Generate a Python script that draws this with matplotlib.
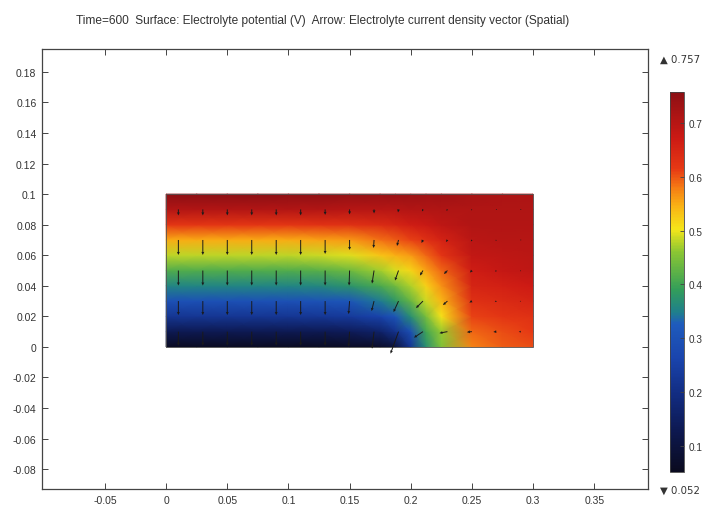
import numpy as np
import matplotlib
matplotlib.use("Agg")
import matplotlib.pyplot as plt
from matplotlib.colors import LinearSegmentedColormap
from matplotlib.patches import Rectangle

# electrolyte potential (V) on the domain nodes, rows = y, columns = x
x_nodes = [0.0, 0.025, 0.05, 0.075, 0.1, 0.125, 0.15, 0.175, 0.1875, 0.2, 0.2125,
           0.225, 0.25, 0.275, 0.3]
y_nodes = [0.0, 0.01, 0.02, 0.03, 0.04, 0.05, 0.06, 0.07, 0.08, 0.09, 0.1]
phi_by_column = [
    [0.06, 0.13, 0.225, 0.295, 0.355, 0.415, 0.48, 0.55, 0.62, 0.705, 0.755],
    [0.06, 0.13, 0.225, 0.295, 0.355, 0.415, 0.48, 0.55, 0.62, 0.705, 0.755],
    [0.06, 0.13, 0.225, 0.295, 0.355, 0.415, 0.48, 0.55, 0.62, 0.705, 0.755],
    [0.06, 0.13, 0.225, 0.295, 0.355, 0.415, 0.48, 0.55, 0.62, 0.705, 0.755],
    [0.06, 0.13, 0.225, 0.295, 0.355, 0.415, 0.48, 0.55, 0.62, 0.705, 0.75],
    [0.06, 0.13, 0.228, 0.30, 0.36, 0.42, 0.485, 0.555, 0.625, 0.705, 0.75],
    [0.065, 0.14, 0.235, 0.31, 0.375, 0.435, 0.495, 0.56, 0.63, 0.70, 0.745],
    [0.07, 0.16, 0.26, 0.345, 0.41, 0.47, 0.53, 0.585, 0.64, 0.70, 0.74],
    [0.10, 0.21, 0.31, 0.38, 0.44, 0.49, 0.545, 0.595, 0.65, 0.70, 0.74],
    [0.22, 0.29, 0.37, 0.43, 0.475, 0.515, 0.56, 0.61, 0.665, 0.705, 0.735],
    [0.37, 0.40, 0.445, 0.485, 0.52, 0.555, 0.59, 0.63, 0.675, 0.705, 0.73],
    [0.45, 0.465, 0.505, 0.54, 0.565, 0.59, 0.62, 0.655, 0.69, 0.71, 0.73],
    [0.575, 0.59, 0.61, 0.63, 0.65, 0.665, 0.685, 0.695, 0.705, 0.71, 0.72],
    [0.595, 0.605, 0.62, 0.64, 0.66, 0.68, 0.69, 0.70, 0.705, 0.71, 0.715],
    [0.605, 0.615, 0.63, 0.65, 0.67, 0.69, 0.695, 0.70, 0.705, 0.71, 0.715],
]
phi_min, phi_max = 0.052, 0.757

# current density arrows (arbitrary units), rows = arrow_y, columns = arrow_x
arrow_x = [0.01, 0.03, 0.05, 0.07, 0.09, 0.11, 0.13, 0.15, 0.17, 0.19, 0.21, 0.23, 0.25, 0.27, 0.29]
arrow_y = [0.01, 0.03, 0.05, 0.07, 0.09]
jx = [
    [0, 0, 0, 0, 0, 0, 0, -1, -2, -8, -9, -8, -5, -3, -2],
    [0, 0, 0, 0, 0, 0, 0, -1, -2.5, -5, -7, -4.5, -2.5, -1.5, -1],
    [0, 0, 0, 0, 0, 0, 0, -0.5, -2, -3.5, -3, -3.5, -2, -1.2, -0.8],
    [0, 0, 0, 0, 0, 0, 0, 0, -0.5, -1.5, -1.5, -1.5, -1, -0.8, -0.5],
    [0, 0, 0, 0, 0, 0, 0, 0, 0, -0.5, -1, -1, -0.8, -0.5, -0.3],
]
jy = [
    [-14, -14, -14, -14, -14, -14, -14, -15, -17, -22, -6, -1.5, -0.5, -0.3, -0.2],
    [-14, -14, -14, -14, -14, -14, -14, -13, -10, -11, -7, -4, -1.5, -1, -0.5],
    [-15, -15, -15, -15, -15, -15, -15, -15, -13, -10, -5, -3.5, -2, -1.2, -0.8],
    [-15, -15, -15, -15, -15, -15, -14, -10, -8, -6, -3, -2, -1.5, -1, -0.5],
    [-6, -6, -6, -6, -6, -6, -5.5, -5, -4, -3, -2, -1.5, -1, -0.8, -0.5],
]

x_ticks = [-0.05, 0, 0.05, 0.1, 0.15, 0.2, 0.25, 0.3, 0.35]
y_ticks = [-0.08, -0.06, -0.04, -0.02, 0, 0.02, 0.04, 0.06, 0.08, 0.1, 0.12, 0.14, 0.16, 0.18]
cbar_ticks = [0.1, 0.2, 0.3, 0.4, 0.5, 0.6, 0.7]

title = ("Time=600  Surface: Electrolyte potential (V)  "
         "Arrow: Electrolyte current density vector (Spatial)")

rainbow = LinearSegmentedColormap.from_list("rainbow_comsol", [
    (0.00, (0.04, 0.04, 0.12)),
    (0.10, (0.05, 0.09, 0.30)),
    (0.20, (0.07, 0.17, 0.50)),
    (0.30, (0.10, 0.27, 0.68)),
    (0.39, (0.12, 0.36, 0.74)),
    (0.42, (0.12, 0.50, 0.55)),
    (0.48, (0.20, 0.62, 0.35)),
    (0.58, (0.55, 0.78, 0.20)),
    (0.64, (0.96, 0.90, 0.10)),
    (0.70, (0.98, 0.70, 0.08)),
    (0.75, (0.96, 0.48, 0.08)),
    (0.80, (0.90, 0.22, 0.08)),
    (0.88, (0.80, 0.10, 0.08)),
    (1.00, (0.55, 0.06, 0.08)),
])

text_color = "#333333"
narrow = ["Liberation Sans Narrow", "Liberation Sans", "DejaVu Sans"]
plt.rcParams["font.family"] = narrow

fig = plt.figure(figsize=(7.02, 5.10), dpi=100)
ax = fig.add_axes([42 / 702, 20 / 510, 606 / 702, 440 / 510])

phi = np.array(phi_by_column).T
mesh = ax.pcolormesh(x_nodes, y_nodes, phi, shading="gouraud",
                     cmap=rainbow, vmin=phi_min, vmax=phi_max)
ax.add_patch(Rectangle((0, 0), 0.3, 0.1, fill=False, edgecolor="#555555", lw=0.6))

ax.quiver(arrow_x, arrow_y, jx, jy, angles="uv", scale_units="dots", scale=1,
          pivot="tail", color="#1a1a1a", width=0.0016, headwidth=3.0,
          headlength=3.2, headaxislength=3.0, clip_on=False)

ax.set_xlim(-0.1015, 0.394)
ax.set_ylim(-0.093, 0.195)
ax.set_xticks(x_ticks)
ax.set_xticklabels(["%g" % v for v in x_ticks])
ax.set_yticks(y_ticks)
ax.set_yticklabels(["%g" % v for v in y_ticks])
ax.tick_params(direction="in", length=4, width=0.7, top=True, right=True,
               labelsize=7.5, colors="#444444", labelcolor=text_color, pad=4)
for sp in ax.spines.values():
    sp.set_color("#444444")
    sp.set_linewidth(0.9)

fig.text(0.459, 0.958, title, ha="center", va="center", fontsize=8.6, color=text_color)

# colour legend
cax = fig.add_axes([670 / 702, 37 / 510, 14 / 702, 380 / 510])
cbar = fig.colorbar(mesh, cax=cax, ticks=cbar_ticks)
cbar.ax.set_yticklabels(["%g" % v for v in cbar_ticks])
cbar.ax.tick_params(direction="in", length=3, width=0.6, labelsize=7.2,
                    labelcolor=text_color, colors="#444444", pad=3.5)
cbar.outline.set_linewidth(0.6)
cbar.outline.set_edgecolor("#444444")

fig.text(660 / 702, 1 - 60 / 510, "\u25b2 %.3f" % phi_max, ha="left", va="center",
         fontsize=7.3, color=text_color, family=["DejaVu Sans"])
fig.text(660 / 702, 1 - 491 / 510, "\u25bc %.3f" % phi_min, ha="left", va="center",
         fontsize=7.3, color=text_color, family=["DejaVu Sans"])

fig.savefig("out.png", dpi=100)
